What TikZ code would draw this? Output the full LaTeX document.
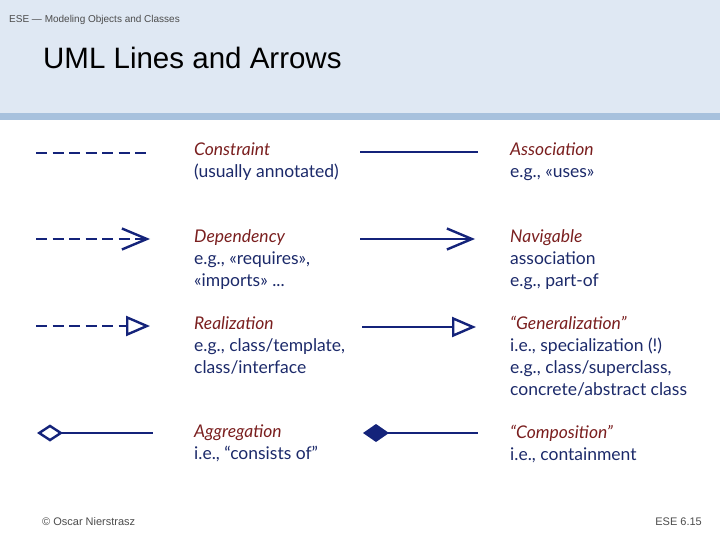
\documentclass[tikz,border=0pt]{standalone}
\usepackage{fontspec}
\setmainfont{Lato}
\usetikzlibrary{arrows.meta}
\definecolor{hdr}{HTML}{DFE8F3}
\definecolor{band}{HTML}{A7C1DD}
\definecolor{lbl}{HTML}{7A1F1F}
\definecolor{txt}{HTML}{1C2A6A}
\definecolor{ln}{HTML}{14237A}
\begin{document}
\begin{tikzpicture}[x=1pt,y=-1pt,
  uml/.style={draw=ln,line width=2.8pt},
  dsh/.style={uml,dash pattern=on 11pt off 5.5pt},
  desc/.style={anchor=north west,align=left,inner sep=0pt,text=txt,font=\fontsize{17.5}{22}\selectfont},
  small/.style={font=\fontspec{Liberation Sans}\fontsize{10}{12}\selectfont,text=black!70,inner sep=0pt}]
\useasboundingbox (0,0) rectangle (720,540);
\fill[hdr] (0,0) rectangle (720,113);
\fill[band] (0,113) rectangle (720,120);
\node[small,anchor=west] (h) at (9,20) {ESE — Modeling Objects and Classes};
\node[anchor=west,inner sep=0pt,font=\fontspec{Liberation Sans}\fontsize{29.5}{32}\selectfont] (t) at (43,58) {UML Lines and Arrows};
\node[small,font=\fontspec{Liberation Sans}\fontsize{11}{13}\selectfont,anchor=west] (f1) at (42,522) {© Oscar Nierstrasz};
\node[small,font=\fontspec{Liberation Sans}\fontsize{11}{13}\selectfont,anchor=east] (f2) at (702,522) {ESE 6.15};
% left column lines
\coordinate (a1) at (36,153); \coordinate (b1) at (148,153);
\draw[dsh] (a1) -- (b1);
\coordinate (a2) at (36,239); \coordinate (b2) at (150,239);
\draw[dsh,-{Straight Barb[length=25pt,width=21pt,line width=2.4pt]}] (a2) -- (b2);
\coordinate (a3) at (36,326); \coordinate (b3) at (150,326);
\draw[dsh,-{Triangle[open,length=24pt,width=20pt,line width=2.4pt,fill=white]}] (a3) -- (b3);
\coordinate (a4) at (37,433); \coordinate (b4) at (153,433);
\draw[uml,{Diamond[open,length=26pt,width=17pt,line width=2.4pt,fill=white]}-] (a4) -- (b4);
% right column lines
\coordinate (c1) at (360,152); \coordinate (d1) at (478,152);
\draw[uml] (c1) -- (d1);
\coordinate (c2) at (360,239); \coordinate (d2) at (475,239);
\draw[uml,-{Straight Barb[length=25pt,width=21pt,line width=2.4pt]}] (c2) -- (d2);
\coordinate (c3) at (362,327); \coordinate (d3) at (476,327);
\draw[uml,-{Triangle[open,length=24pt,width=20pt,line width=2.4pt,fill=white]}] (c3) -- (d3);
\coordinate (c4) at (363,433); \coordinate (d4) at (478,433);
\draw[uml,{Diamond[length=26pt,width=18pt]}-] (c4) -- (d4);
% descriptions
\node[desc] (t1) at (194,143) {\textcolor{lbl}{\itshape Constraint}\\(usually annotated)};
\node[desc] (t2) at (194,229) {\textcolor{lbl}{\itshape Dependency}\\e.g., «requires»,\\«imports» ...};
\node[desc] (t3) at (194,316) {\textcolor{lbl}{\itshape Realization}\\e.g., class/template,\\class/interface};
\node[desc] (t4) at (194,425) {\textcolor{lbl}{\itshape Aggregation}\\i.e., “consists of”};
\node[desc] (u1) at (510,143) {\textcolor{lbl}{\itshape Association}\\e.g., «uses»};
\node[desc] (u2) at (510,229) {\textcolor{lbl}{\itshape Navigable}\\association\\e.g., part-of};
\node[desc] (u3) at (510,316) {\textcolor{lbl}{\itshape “Generalization”}\\i.e., specialization (!)\\e.g., class/superclass,\\concrete/abstract class};
\node[desc] (u4) at (510,425) {\textcolor{lbl}{\itshape “Composition”}\\i.e., containment};
\end{tikzpicture}
\end{document}
